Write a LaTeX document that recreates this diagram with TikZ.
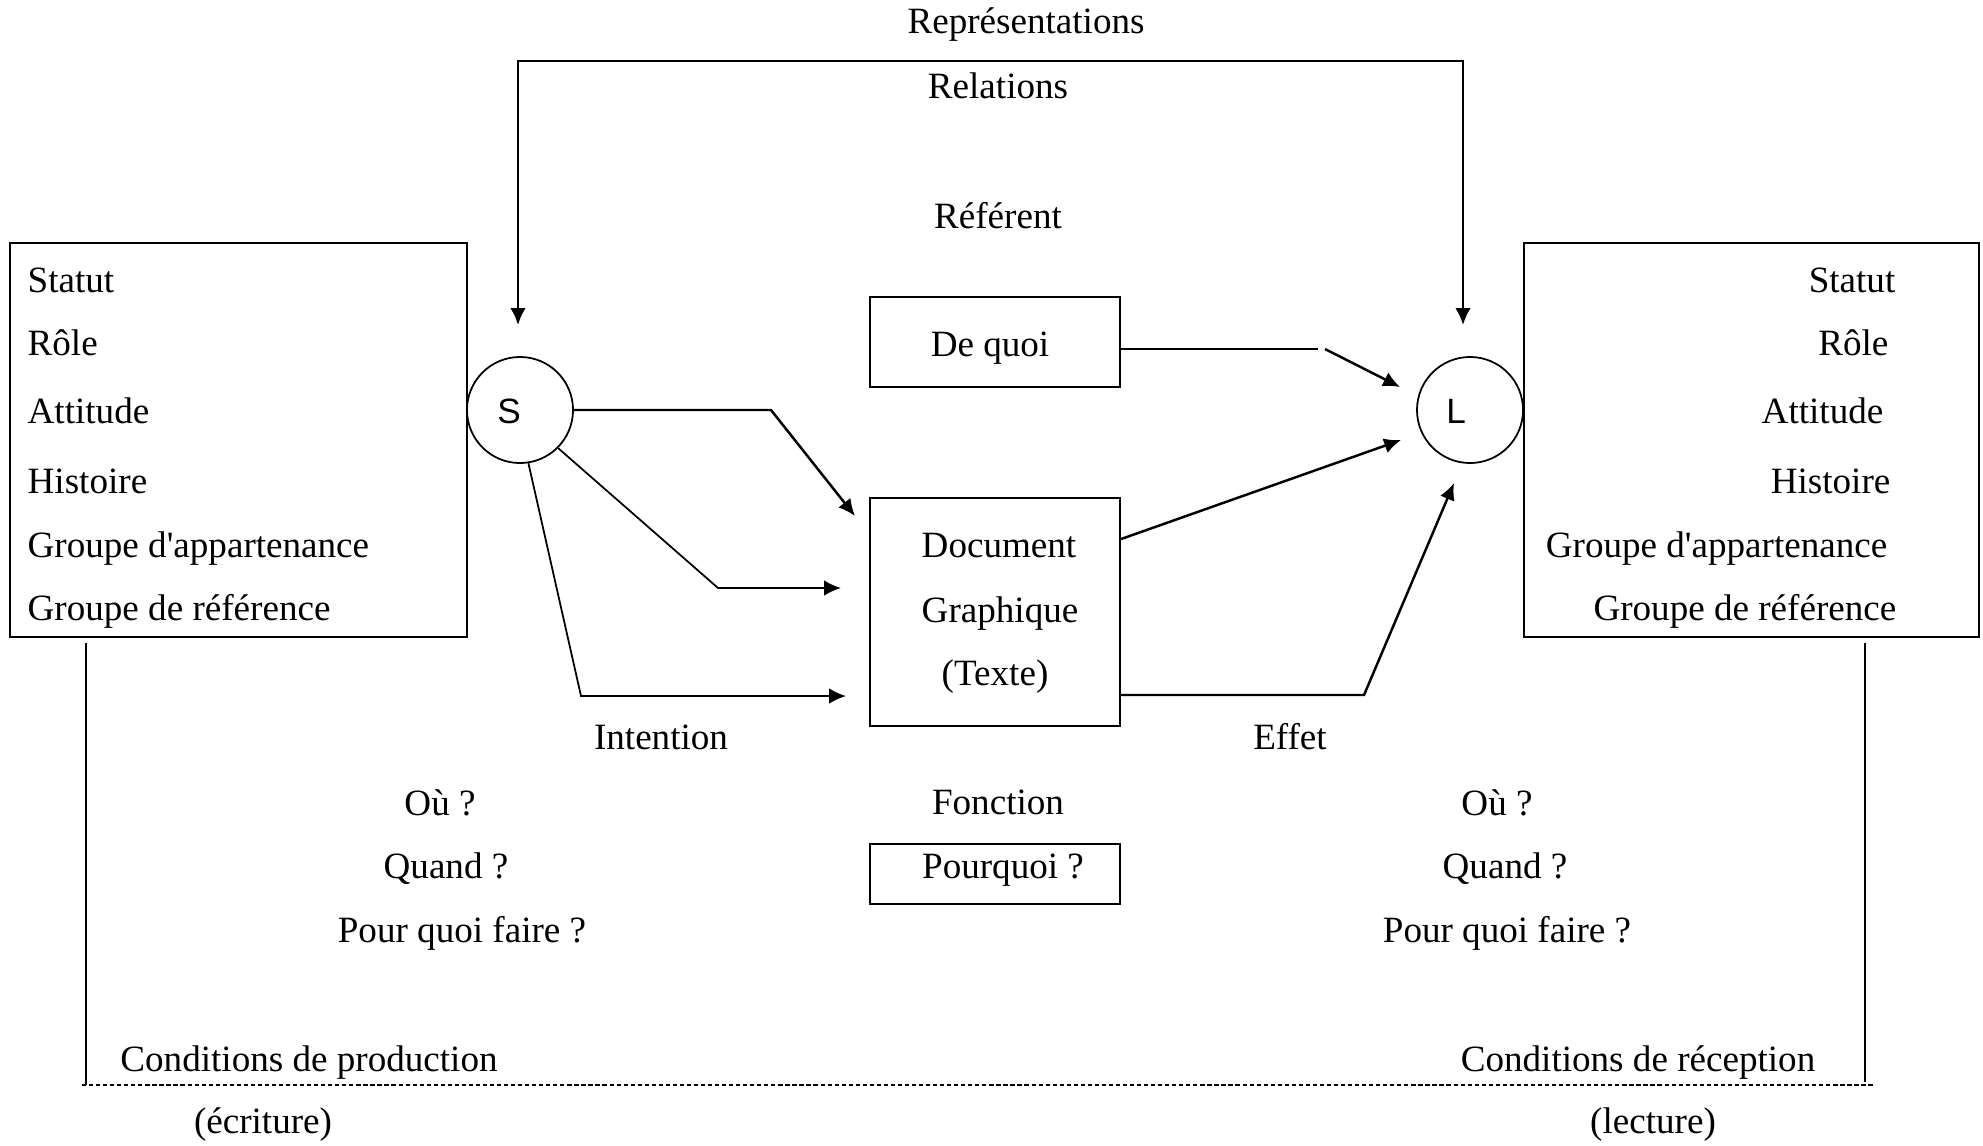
\documentclass[tikz,border=0pt]{standalone}
\usepackage{fontspec}
\setmainfont{Liberation Serif}
\newfontfamily\lettersans{Liberation Sans}
\usepackage{tikz}
\usetikzlibrary{calc}
\usetikzlibrary{arrows.meta}

\begin{document}
\begin{tikzpicture}[
x=0.01cm, y=-0.01cm,
MyBoxes/.style={draw=black,line width=0.6pt,minimum width=2.5cm,inner sep=0pt},
MyCircles/.style={draw=black,circle,line width=0.5pt,minimum size=1.06cm,inner sep=0pt},
MyLetters/.style={inner sep=0pt,font=\lettersans\fontsize{10}{12}\selectfont},
MyArrows/.style={->,>={Latex[length=4.8pt,width=4.4pt]},line width=0.7pt},
MyLines/.style={line width=0.5pt},
MyLabels/.style={inner sep=0pt,anchor=base},
every node/.style={font=\fontsize{10.55}{12.6}\selectfont}
]
\useasboundingbox (0,0) rectangle (1983,1145);

% boxes and circles
\node[MyBoxes,minimum width=4.57cm,minimum height=3.94cm] (Emetteur) at (238.5,440) {};
\node[MyBoxes,minimum width=4.55cm,minimum height=3.94cm] (Recepteur) at (1751.5,440) {};
\node[MyBoxes,minimum height=0.9cm] (DeQuoi) at (995,342) {};
\node[MyBoxes,minimum height=2.28cm] (Doc) at (995,612) {};
\node[MyBoxes,minimum height=0.6cm] (Pourquoi) at (995,874) {};

\node[MyCircles] (S) at (520,410) {};
\node[MyCircles] (L) at (1470,410) {};
\node[MyLetters] (SLetter) at (509,411) {S};
\node[MyLetters] (LLetter) at (1456,411) {L};

% texts in the side boxes
\foreach \txt/\yb [count=\i] in {Statut/292,Rôle/355,Attitude/423,Histoire/493,Groupe d\textquotesingle{}appartenance/557,Groupe de référence/620}
  \node[MyLabels,anchor=base west] (Em\i) at (27,\yb) {\txt};
\foreach \txt/\xr/\yb [count=\i] in {Statut/1896/292,Rôle/1889/355,Attitude/1884/423,Histoire/1891/493,Groupe d\textquotesingle{}appartenance/1888/557,Groupe de référence/1897/620}
  \node[MyLabels,anchor=base east] (Re\i) at (\xr,\yb) {\txt};

% middle column
\node[MyLabels] (Representations) at (1026,33) {Représentations};
\node[MyLabels] (Relations) at (998,98) {Relations};
\node[MyLabels] (Referent) at (998,228) {Référent};
\node[MyLabels] (DeQuoiTxt) at (990,356) {De quoi};
\node[MyLabels] (DocA) at (999,557) {Document};
\node[MyLabels] (DocB) at (1000,622) {Graphique};
\node[MyLabels] (DocC) at (995,685) {(Texte)};
\node[MyLabels] (Intention) at (661,749) {Intention};
\node[MyLabels] (Effet) at (1290,749) {Effet};
\node[MyLabels] (Fonction) at (998,814) {Fonction};
\node[MyLabels] (PourquoiTxt) at (1003,878) {Pourquoi ?};

% questions
\foreach \txt/\xa/\xb/\yb [count=\i] in {Où ?/440/1497/815,Quand ?/446/1505/878,Pour quoi faire ?/462/1507/942}{
  \node[MyLabels] (QProd\i) at (\xa,\yb) {\txt};
  \node[MyLabels] (QRec\i) at (\xb,\yb) {\txt};
}

\node[MyLabels] (CondProd) at (309,1071) {Conditions de production};
\node[MyLabels] (CondRec) at (1638,1071) {Conditions de réception};
\node[MyLabels] (Ecriture) at (263,1133) {(écriture)};
\node[MyLabels] (Lecture) at (1653,1133) {(lecture)};

% top relation
\coordinate (SIn) at (518,325);
\coordinate (LIn) at (1463,325);
\draw[MyArrows,<->] (SIn) |- (990,61) -| (LIn);

% from S to the document
\coordinate (TipA) at (855,516);
\coordinate (TipB) at (841,588);
\coordinate (TipC) at (846,696);
\draw[MyArrows] (S.east) -- (771,410) -- (TipA);
\draw[MyArrows,line width=0.5pt] (S.-45) -- (718,588) -- (TipB);
\draw[MyArrows,line width=0.5pt] (S.-81) -- (581,696) -- (TipC);

% towards L
\coordinate (DqBreak) at (1318,349);
\coordinate (TipD) at (1400,387);
\coordinate (TipE) at (1401,440);
\coordinate (TipF) at (1454,483);
\draw[MyLines] (DeQuoi.east |- DqBreak) -- (DqBreak);
\draw[MyArrows] ($(DqBreak)+(7,0)$) -- (TipD);
\draw[MyArrows] (Doc.east |- 0,539) -- (TipE);
\draw[MyArrows] (Doc.east |- 0,695) -- (1364,695) -- (TipF);

% conditions
\draw[MyLines] (Emetteur.south -| 86,0) ++(0,5) -- (86,1085);
\draw[MyLines] (Recepteur.south -| 1865,0) ++(0,5) -- (1865,1082);
\draw[line width=0.6pt,dash pattern=on 1.2pt off 0.8pt] (82,1085) -- (1875,1085);

\end{tikzpicture}
\end{document}
